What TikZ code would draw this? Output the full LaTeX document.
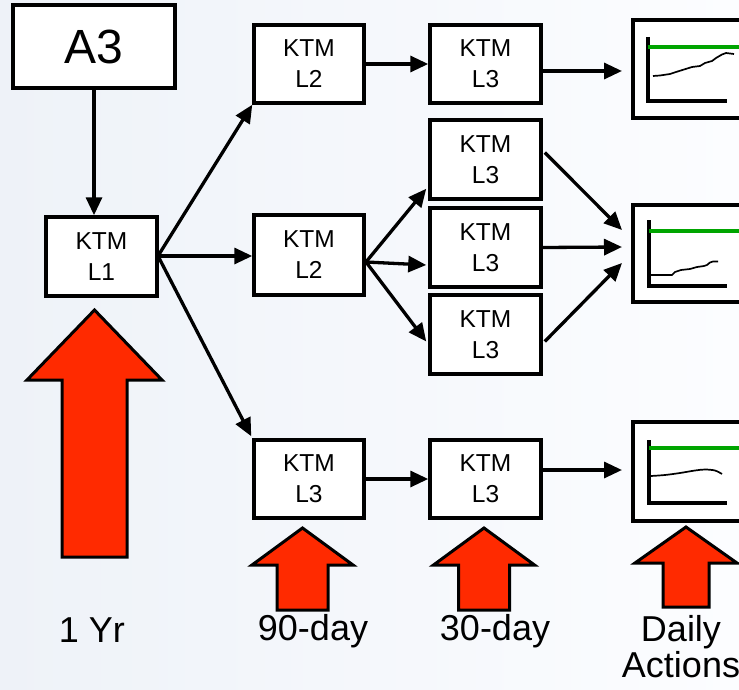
\documentclass[tikz,border=0pt]{standalone}
\usepackage{fontspec}
\setmainfont{Liberation Sans}
\usetikzlibrary{arrows.meta,calc}
\definecolor{bgA}{RGB}{238,242,248}
\definecolor{bgB}{RGB}{252,253,255}
\definecolor{redarrow}{RGB}{255,42,0}
\definecolor{chartgreen}{RGB}{0,165,0}
\newcommand\redup[6]{%
  \draw[redblk] (#1,#2) -- (#1+#4,#3) -- (#1+#5,#3) -- (#1+#5,#6) -- (#1-#5,#6) -- (#1-#5,#3) -- (#1-#4,#3) -- cycle;}
\begin{document}
\begin{tikzpicture}[x=1pt,y=-1pt,
  box/.style={draw=black,line width=3.5pt,fill=white,minimum width=111pt,minimum height=79pt,inner sep=0pt,align=center,font=\fontsize{24.5}{31}\selectfont},
  conn/.style={line width=3.3pt,-{Triangle[length=18pt,width=16pt]}},
  redblk/.style={fill=redarrow,draw=black,line width=3pt,line join=miter},
  lbl/.style={font=\fontsize{36}{36}\selectfont,align=center,inner sep=0pt},
  chartframe/.style={draw=black,line width=4.5pt,fill=white,inner sep=0pt},
  axis/.style={line width=4pt,line join=miter},
  target/.style={draw=chartgreen,line width=4.5pt},
  trend/.style={line width=1.7pt,line join=round}]
\useasboundingbox (0,0) rectangle (739,690);
\clip (0,0) rectangle (739,690);
\shade[left color=bgA,right color=bgB] (0,0) rectangle (739,690);

% nodes
\node[box,minimum width=162pt,minimum height=83pt,font=\fontsize{48}{50}\selectfont] (A3) at (94,46.5) {A3};
\node[box] (L1) at (101.5,256.5) {KTM\\L1};
\node[box,minimum width=110pt,minimum height=78pt] (L2t) at (309,64) {KTM\\L2};
\node[box,minimum height=78pt] (L3t) at (485.5,64) {KTM\\L3};
\node[box] (L3a) at (485.5,159.5) {KTM\\L3};
\node[box] (L3b) at (485.5,247.5) {KTM\\L3};
\node[box] (L3c) at (485.5,334.5) {KTM\\L3};
\node[box,minimum width=110pt,minimum height=80pt] (L2m) at (309,255) {KTM\\L2};
\node[box,minimum width=110pt,minimum height=78pt] (L3bl) at (309,479) {KTM\\L3};
\node[box,minimum height=78pt] (L3br) at (485.5,479) {KTM\\L3};

% chart frames
\node[chartframe,minimum width=117pt,minimum height=98pt] (ch1) at (691.5,69) {};
\node[chartframe,minimum width=117pt,minimum height=97pt] (ch2) at (691.5,253.5) {};
\node[chartframe,minimum width=117pt,minimum height=99pt] (ch3) at (691.5,471.5) {};

% chart 1
\draw[axis] (648,37) -- (648,101) -- (727,101);
\draw[target] (648,47) -- (750,47);
\draw[trend] (653,76) -- (660,75.5) -- (670,74) -- (676,72) -- (684,69.5) -- (692,67) -- (700,66) -- (705,63) -- (712,61) -- (716,58) -- (722,54.5) -- (726,53) -- (734,54);
% chart 2
\draw[axis] (649,220) -- (649,286) -- (727,286);
\draw[target] (649,231) -- (750,231);
\draw[trend] (651,275) -- (672,275) -- (675,272) -- (681,270) -- (690,269) -- (697,267) -- (704,266) -- (707,265) -- (710,262.5) -- (713,261.5) -- (718,261.5);
% chart 3
\draw[axis] (649,440) -- (649,503) -- (727,503);
\draw[target] (649,448) -- (750,448);
\draw[trend] plot[smooth] coordinates {(651,476) (665,475) (680,473) (695,470.5) (705,469.5) (715,470.5) (722,474)};

% connectors
\coordinate (l1out) at (158,256);
\coordinate (l2out) at (366,262);
\coordinate (ch1in) at (622,71);
\coordinate (ch2a) at (622,230);
\coordinate (ch2b) at (622,247);
\coordinate (ch2c) at (622,263);
\coordinate (ch3in) at (622,470);
\draw[conn] (A3.south) -- (A3.south |- L1.north);
\draw[conn] (l1out) -- (L2t.south west);
\draw[conn] (l1out) -- (L2m.west |- l1out);
\draw[conn] (l1out) -- ($(L3bl.north west)+(-1,-2)$);
\draw[conn] (L2t.east) -- (L3t.west);
\draw[conn] (L3t.east |- ch1in) -- (ch1in);
\draw[conn] (l2out) -- ($(L3a.south west)+(-2,-12)$);
\draw[conn] (l2out) -- ($(L3b.west |- l2out)+(-2,3)$);
\draw[conn] (l2out) -- ($(L3c.west)+(-2,7)$);
\draw[conn] ($(L3a.east)+(2,-7)$) -- (ch2a);
\draw[conn] (L3b.east) -- (ch2b);
\draw[conn] ($(L3c.east)+(2,7)$) -- (ch2c);
\draw[conn] (L3bl.east) -- (L3br.west);
\draw[conn] (L3br.east |- ch3in) -- (ch3in);

% red block arrows
\redup{94.5}{310}{380}{67.5}{32.5}{557}
\redup{302.5}{528}{565}{50.5}{25.5}{610}
\redup{484}{528}{565}{50.5}{25.5}{610}
\redup{686}{527}{563}{51}{23}{607}

% labels
\node[lbl,anchor=base] (t1) at (92,642) {1 Yr};
\node[lbl,anchor=base] (t2) at (313,640) {90-day};
\node[lbl,anchor=base] (t3) at (495,640) {30-day};
\node[lbl,anchor=base] (t4) at (681,641) {Daily};
\node[lbl,anchor=base] (t5) at (681,677) {Actions};
\end{tikzpicture}
\end{document}
